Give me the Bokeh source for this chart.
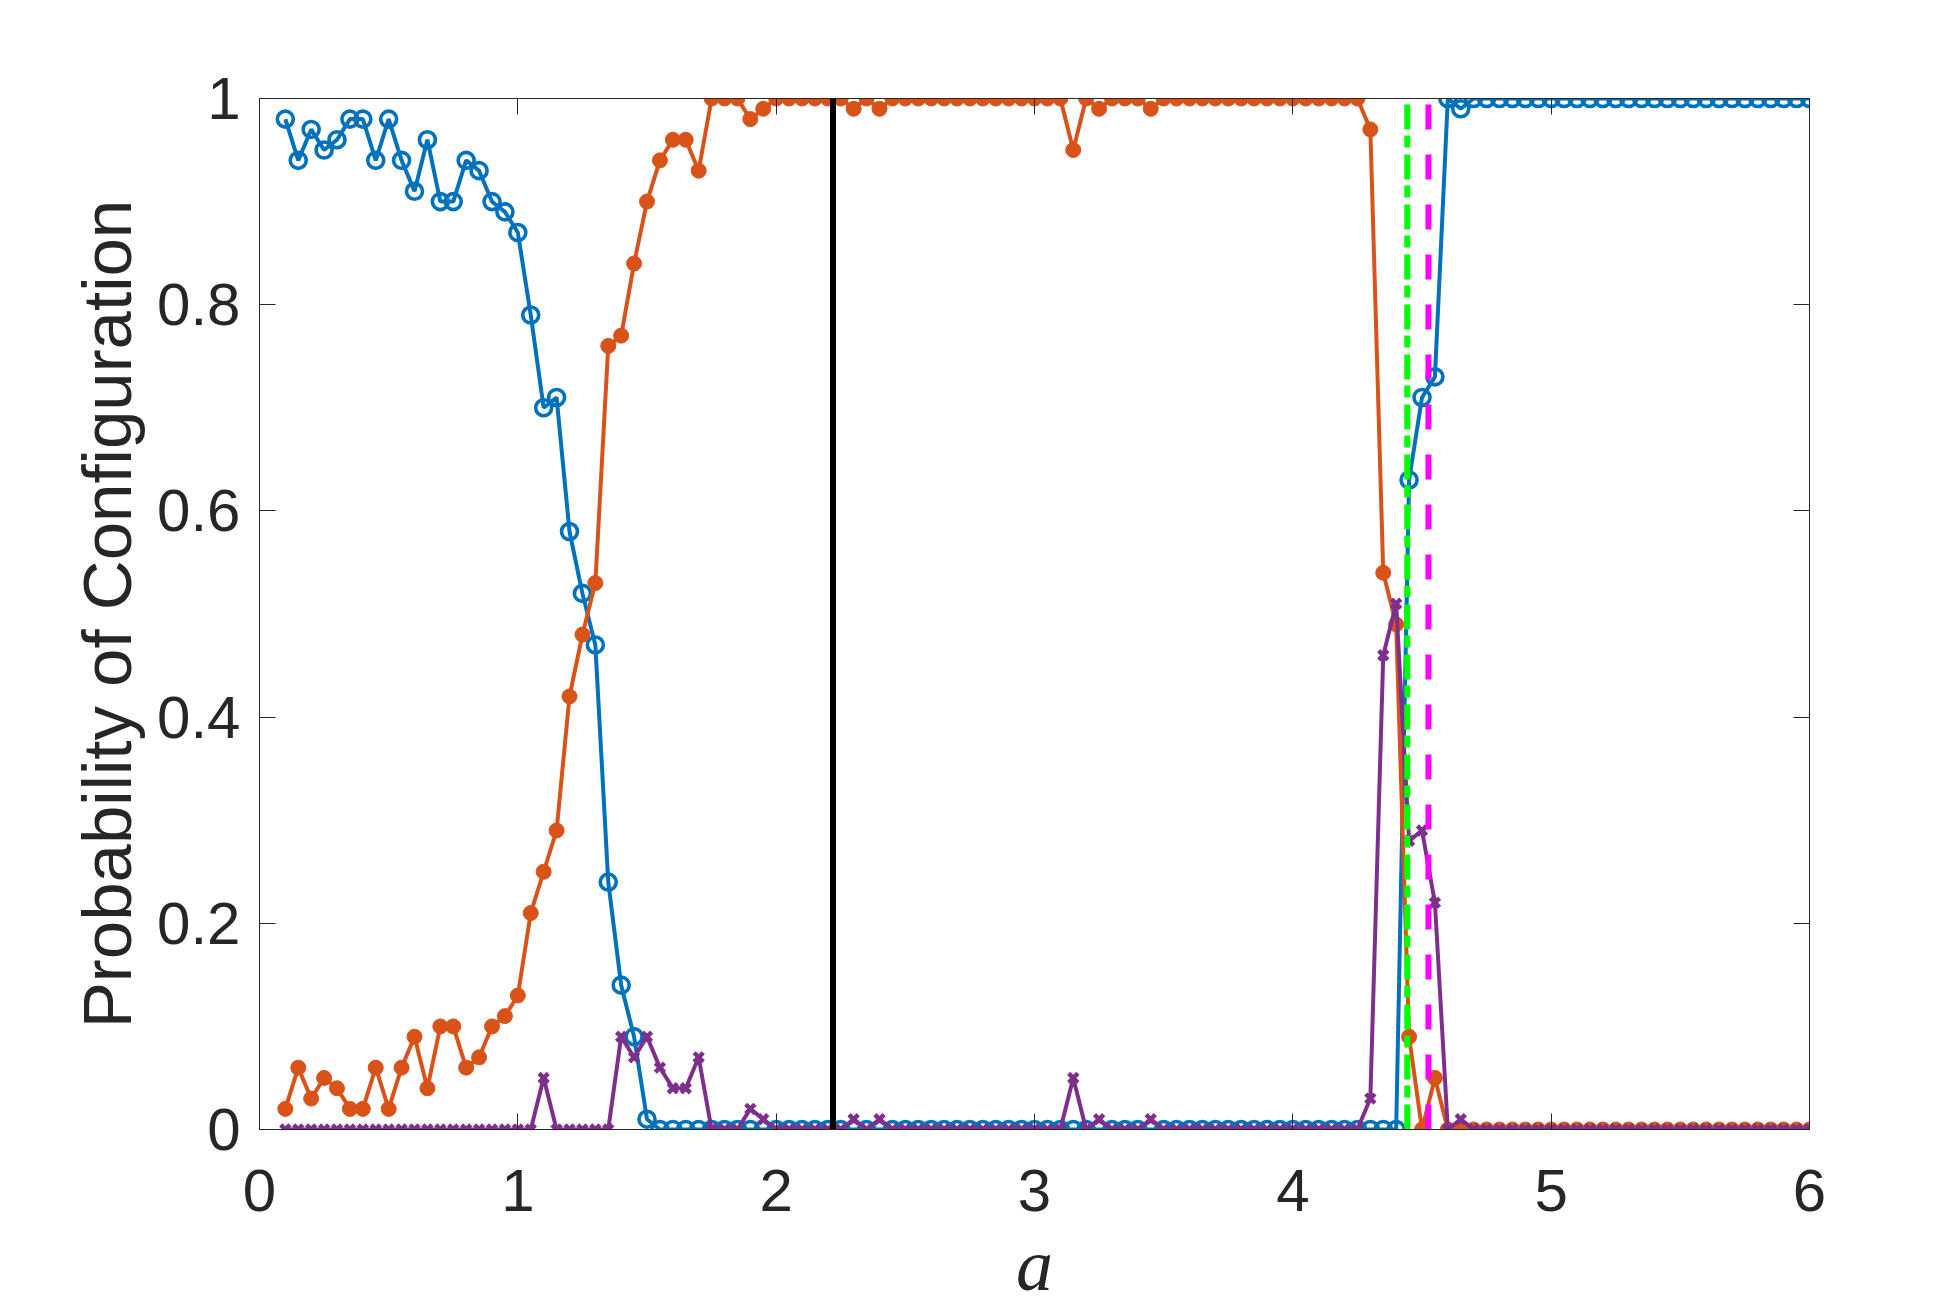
import numpy as np
from bokeh.plotting import figure
from bokeh.models import Range1d, FixedTicker, LinearAxis
from bokeh.embed import file_html
from bokeh.resources import INLINE

# ---- data ----
a_vals = np.round(np.linspace(0.1, 6.0, 119), 2)

p_blue = ([0.98, 0.94, 0.97, 0.95, 0.96, 0.98, 0.98, 0.94, 0.98, 0.94,
           0.91, 0.96, 0.90, 0.90, 0.94, 0.93, 0.90, 0.89, 0.87, 0.79,
           0.70, 0.71, 0.58, 0.52, 0.47, 0.24, 0.14, 0.09, 0.01]
          + [0.0] * 58
          + [0.63, 0.71, 0.73, 1.0, 0.99]
          + [1.0] * 27)

p_orange = ([0.02, 0.06, 0.03, 0.05, 0.04, 0.02, 0.02, 0.06, 0.02, 0.06,
             0.09, 0.04, 0.10, 0.10, 0.06, 0.07, 0.10, 0.11, 0.13, 0.21,
             0.25, 0.29, 0.42, 0.48, 0.53, 0.76, 0.77, 0.84, 0.90, 0.94,
             0.96, 0.96, 0.93, 1.0, 1.0, 1.0, 0.98, 0.99, 1.0, 1.0,
             1.0, 1.0, 1.0, 1.0, 0.99, 1.0, 0.99]
            + [1.0] * 14
            + [0.95, 1.0, 0.99, 1.0, 1.0, 1.0, 0.99]
            + [1.0] * 16
            + [0.97, 0.54, 0.49, 0.09, 0.0, 0.05]
            + [0.0] * 29)

p_purple = ([0.0] * 20
            + [0.05, 0.0, 0.0, 0.0, 0.0, 0.0, 0.09, 0.07, 0.09, 0.06,
               0.04, 0.04, 0.07, 0.0, 0.0, 0.0, 0.02, 0.01]
            + [0.0] * 6
            + [0.01, 0.0, 0.01]
            + [0.0] * 14
            + [0.05, 0.0, 0.01, 0.0, 0.0, 0.0, 0.01]
            + [0.0] * 16
            + [0.03, 0.46, 0.51, 0.28, 0.29, 0.22, 0.0, 0.01]
            + [0.0] * 27)

vline_black = [2.22]
vline_green = [4.443]
vline_magenta = [4.525]

x_ticks = [0, 1, 2, 3, 4, 5, 6]
y_ticks = [0, 0.2, 0.4, 0.6, 0.8, 1]
y_tick_labels = {0: "0", 0.2: "0.2", 0.4: "0.4", 0.6: "0.6", 0.8: "0.8", 1: "1"}

# ---- styles ----
BLUE = "#0072BD"
ORANGE = "#D95319"
PURPLE = "#7E2F8E"
AX = "#262626"
FONT = "Liberation Sans"

p = figure(width=1953, height=1310, output_backend="svg", toolbar_location=None,
           x_range=Range1d(0, 6), y_range=Range1d(0, 1),
           min_border_left=259, min_border_right=144,
           min_border_top=98, min_border_bottom=181)
p.xgrid.visible = False
p.ygrid.visible = False
p.background_fill_color = "white"
p.border_fill_color = "white"
p.outline_line_color = AX
p.outline_line_width = 1

# series
p.line(a_vals, p_blue, color=BLUE, line_width=4)
p.scatter(a_vals, p_blue, marker="circle", size=16, line_color=BLUE,
          line_width=3.6, fill_alpha=0)
p.line(a_vals, p_orange, color=ORANGE, line_width=4)
p.scatter(a_vals, p_orange, marker="circle", size=15, line_color=ORANGE,
          fill_color=ORANGE, line_width=1)
p.line(a_vals, p_purple, color=PURPLE, line_width=4)
p.scatter(a_vals, p_purple, marker="x", size=13, line_color=PURPLE,
          line_width=4.5)

# vertical lines (drawn from bottom to top)
p.segment(x0=vline_black, y0=[0], x1=vline_black, y1=[1],
          line_color="black", line_width=6)
p.segment(x0=vline_green, y0=[0], x1=vline_green, y1=[1],
          line_color="#00FF00", line_width=6, line_dash="25 7 12 6")
p.segment(x0=vline_magenta, y0=[0], x1=vline_magenta, y1=[1],
          line_color="#FF00FF", line_width=6, line_dash="25 25")

# axes
for ax in (p.xaxis[0], p.yaxis[0]):
    ax.axis_line_color = AX
    ax.axis_line_width = 1
    ax.major_tick_line_color = AX
    ax.major_tick_line_width = 1
    ax.major_tick_in = 16
    ax.major_tick_out = 0
    ax.minor_tick_line_color = None
    ax.major_label_text_font = FONT
    ax.major_label_text_font_size = "60px"
    ax.major_label_text_color = AX

p.xaxis.ticker = FixedTicker(ticks=x_ticks)
p.yaxis.ticker = FixedTicker(ticks=y_ticks)
p.yaxis.major_label_overrides = y_tick_labels
p.xaxis.major_label_standoff = 40
p.yaxis.major_label_standoff = 19

p.yaxis.axis_label = "Probability of Configuration"
p.yaxis.axis_label_text_font = FONT
p.yaxis.axis_label_text_font_style = "normal"
p.yaxis.axis_label_text_font_size = "69px"
p.yaxis.axis_label_text_color = AX
p.yaxis.axis_label_standoff = 8

p.xaxis.axis_label = "a"
p.xaxis.axis_label_text_font = "Liberation Serif"
p.xaxis.axis_label_text_font_style = "italic"
p.xaxis.axis_label_text_font_size = "74px"
p.xaxis.axis_label_text_color = AX
p.xaxis.axis_label_standoff = 10

# box ticks on top and right
top_ax = LinearAxis(ticker=FixedTicker(ticks=x_ticks),
                    major_label_overrides={t: "" for t in x_ticks},
                    major_label_text_font_size="1px",
                    axis_line_color=AX, major_tick_line_color=AX,
                    major_tick_in=16, major_tick_out=0,
                    minor_tick_line_color=None)
right_ax = LinearAxis(ticker=FixedTicker(ticks=y_ticks),
                      major_label_overrides={t: "" for t in y_ticks},
                      major_label_text_font_size="1px",
                      axis_line_color=AX, major_tick_line_color=AX,
                      major_tick_in=16, major_tick_out=0,
                      minor_tick_line_color=None)
p.add_layout(top_ax, "above")
p.add_layout(right_ax, "right")

open("out.html", "w").write(file_html(p, INLINE))
